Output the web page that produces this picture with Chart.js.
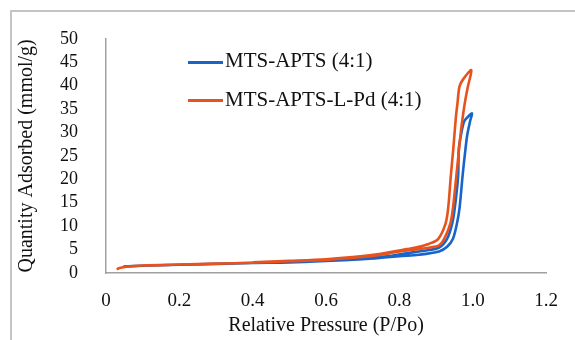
<!DOCTYPE html>
<html>
<head>
<meta charset="utf-8">
<script src="https://cdn.jsdelivr.net/npm/chart.js@4.4.1/dist/chart.umd.min.js"></script>
<style>
  body { margin: 0; background: #fff; }
  #wrap { position: relative; width: 575px; height: 340px; overflow: hidden; }
  #frame { position: absolute; left: 10px; top: 10px; width: 700px; height: 400px;
           border-top: 2px solid #c4c4c4; border-left: 2px solid #c4c4c4; }
  canvas { position: absolute; left: 0; top: 0; }
  .leg { position: absolute; font-family: "Liberation Serif", serif; font-size: 21px;
         line-height: 21px; color: #111; white-space: nowrap; }
  .swatch { position: absolute; width: 35px; height: 3px; }
</style>
</head>
<body>
<div id="wrap">
  <div id="frame"></div>
  <canvas id="chart" width="575" height="340"></canvas>
  <div class="swatch" style="left:188px;top:61px;background:#1864c8"></div>
  <div class="leg" style="left:225px;top:50px">MTS-APTS (4:1)</div>
  <div class="swatch" style="left:188px;top:99px;background:#e8521c"></div>
  <div class="leg" style="left:225px;top:89px">MTS-APTS-L-Pd (4:1)</div>
</div>
<script>
// relative pressure P/Po and quantity adsorbed (mmol/g), adsorption then desorption
const blueP = [0.047, 0.1, 0.2, 0.3, 0.4, 0.5, 0.6, 0.7, 0.75, 0.8, 0.853, 0.908, 0.93, 0.946, 0.957, 0.964, 0.972, 0.978, 0.985, 0.993, 0.998,
               0.985, 0.976, 0.968, 0.962, 0.96, 0.951, 0.944, 0.93, 0.908, 0.88, 0.853, 0.82, 0.78, 0.7, 0.6, 0.5];
const blueQ = [1.4, 1.55, 1.75, 1.95, 2.15, 2.25, 2.55, 2.95, 3.25, 3.6, 3.9, 4.6, 5.6, 7.3, 10.6, 13.9, 20.6, 25, 29.5, 32.5, 34.1,
               33.2, 32.3, 29.5, 26.6, 20.6, 13.9, 10.6, 7.3, 5.4, 4.9, 4.6, 4.2, 3.7, 3.1, 2.65, 2.3];
const orangeP = [0.029, 0.04, 0.06, 0.1, 0.2, 0.3, 0.4, 0.5, 0.6, 0.7, 0.75, 0.8, 0.853, 0.88, 0.908, 0.922, 0.939, 0.946, 0.955, 0.962, 0.968, 0.973, 0.979, 0.987, 0.996,
                 0.975, 0.964, 0.958, 0.954, 0.947, 0.94, 0.933, 0.926, 0.906, 0.88, 0.853, 0.82, 0.8, 0.75, 0.7, 0.6, 0.5, 0.4];
const orangeQ = [0.8, 1.1, 1.4, 1.6, 1.8, 2.0, 2.2, 2.5, 2.8, 3.4, 3.9, 4.6, 5.1, 5.4, 5.9, 7.3, 10.6, 13.9, 20.6, 26, 30.5, 33.5, 36.6, 39.9, 43.3,
                 41.5, 39.9, 36, 33.3, 26.6, 20.6, 13.9, 10.6, 7.3, 6.2, 5.6, 5.1, 4.8, 4.1, 3.6, 2.95, 2.6, 2.3];
const xTicks = [0, 0.2, 0.4, 0.6, 0.8, 1, 1.2];

const pts = (xs, ys) => xs.map((x, i) => ({ x: x, y: ys[i] }));
const serif = "'Liberation Serif', 'Times New Roman', serif";

new Chart(document.getElementById("chart"), {
  type: "scatter",
  data: {
    datasets: [
      { label: "MTS-APTS-L-Pd (4:1)", data: pts(orangeP, orangeQ), borderColor: "#e8521c",
        showLine: true, borderWidth: 2.6, pointRadius: 0, tension: 0.3, fill: false },
      { label: "MTS-APTS (4:1)", data: pts(blueP, blueQ), borderColor: "#1864c8",
        showLine: true, borderWidth: 2.6, pointRadius: 0, tension: 0.3, fill: false }
    ]
  },
  options: {
    responsive: false,
    animation: false,
    layout: { padding: { left: 0, right: 27, top: 23, bottom: 0 } },
    plugins: { legend: { display: false }, tooltip: { enabled: false } },
    scales: {
      x: {
        type: "linear", min: 0, max: 1.2,
        afterBuildTicks: s => { s.ticks = xTicks.map(v => ({ value: v })); },
        afterFit: s => { s.height = 67; },
        grid: { display: false, drawTicks: false },
        border: { display: true, color: "#a0a0a0", width: 1.5 },
        ticks: { padding: 17, color: "#111", font: { family: serif, size: 19 }, maxRotation: 0, autoSkip: false },
        title: { display: true, text: "Relative Pressure (P/Po)", color: "#111",
                 font: { family: serif, size: 20 }, padding: { top: 0, bottom: 2 } }
      },
      y: {
        min: 0, max: 50,
        afterFit: s => { s.width = 106; },
        grid: { display: false, drawTicks: false },
        border: { display: true, color: "#a0a0a0", width: 1.5 },
        ticks: { stepSize: 5, autoSkip: false, padding: 28, color: "#111", font: { family: serif, size: 18 } },
        title: { display: true, text: "Quantity Adsorbed (mmol/g)", color: "#111",
                 font: { family: serif, size: 20 }, padding: { top: 15, bottom: 0 } }
      }
    }
  }
});
</script>
</body>
</html>
